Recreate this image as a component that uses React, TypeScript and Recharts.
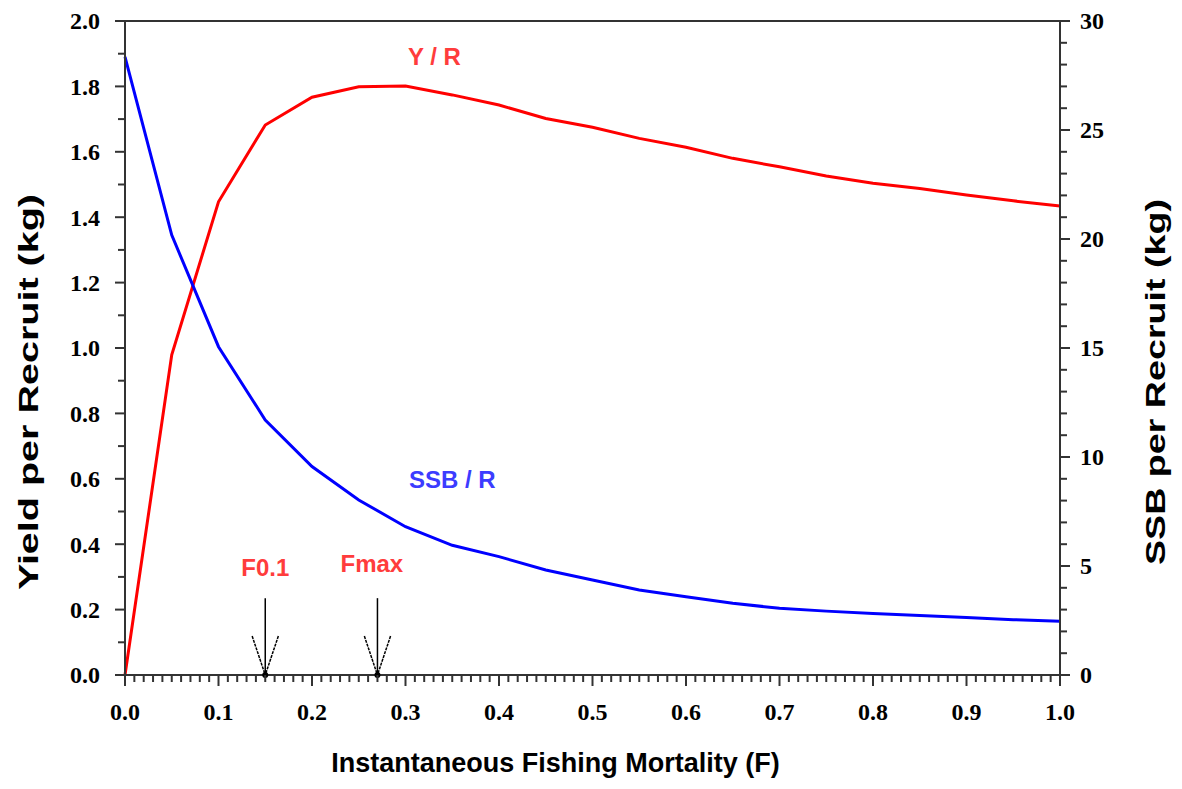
import React from 'react';
import {
  LineChart,
  Line,
  XAxis,
  YAxis,
  ReferenceLine,
  ReferenceDot,
  Label,
} from 'recharts';

// fishing mortality values (x)
const fValues = [0, 0.05, 0.1, 0.15, 0.2, 0.25, 0.3, 0.35, 0.4, 0.45, 0.5, 0.55, 0.6, 0.65, 0.7, 0.75, 0.8, 0.85, 0.9, 0.95, 1.0];
// yield per recruit (kg), left axis
const yieldPerRecruit = [0, 0.979, 1.447, 1.682, 1.767, 1.799, 1.801, 1.774, 1.743, 1.702, 1.675, 1.641, 1.614, 1.58, 1.554, 1.526, 1.504, 1.488, 1.468, 1.45, 1.434];
// spawning stock biomass per recruit (kg), right axis
const ssbPerRecruit = [28.35, 20.18, 15.06, 11.7, 9.56, 8.03, 6.8, 5.95, 5.43, 4.82, 4.36, 3.9, 3.59, 3.29, 3.06, 2.93, 2.82, 2.73, 2.64, 2.54, 2.46];

// reference points marked with arrows
const refPoints = [
  { name: 'F0.1', f: 0.15 },
  { name: 'Fmax', f: 0.27 },
];

// text annotations: label, x, y (left axis units)
const notes = [
  { text: 'Y / R', f: 0.331, y: 1.89, color: '#ff3c3c' },
  { text: 'SSB / R', f: 0.35, y: 0.599, color: '#3c3cff' },
  { text: 'F0.1', f: 0.15, y: 0.33, color: '#ff3c3c' },
  { text: 'Fmax', f: 0.264, y: 0.3425, color: '#ff3c3c' },
];

const xTicks = Array.from({ length: 101 }, (_, i) => i / 100);
const leftTicks = Array.from({ length: 21 }, (_, i) => i / 10);
const rightTicks = Array.from({ length: 31 }, (_, i) => i);

const data = fValues.map((f, i) => ({ f, yr: yieldPerRecruit[i], ssb: ssbPerRecruit[i] }));

const AXIS = '#333';
const tickFont = { fontFamily: 'Liberation Serif', fontWeight: 700, fontSize: 24, fill: '#000' };
const titleFont = { fontFamily: 'Liberation Sans', fontWeight: 700, fontSize: 27, fill: '#000' };

const XTick = (props: any) => {
  const { x, y, payload } = props;
  const v = payload.value;
  const major = Math.abs(v * 10 - Math.round(v * 10)) < 1e-6;
  return (
    <g>
      <line x1={x} x2={x} y1={y} y2={y + (major ? 11 : 7)} stroke={AXIS} strokeWidth={2} />
      {major && (
        <text x={x} y={y + 37} dy="0.35em" textAnchor="middle" {...tickFont}>
          {v.toFixed(1)}
        </text>
      )}
    </g>
  );
};

const LeftTick = (props: any) => {
  const { x, y, payload } = props;
  const v = payload.value;
  const major = Math.round(v * 10) % 2 === 0;
  return (
    <g>
      <line x1={x} x2={x - (major ? 10 : 7)} y1={y} y2={y} stroke={AXIS} strokeWidth={2} />
      {major && (
        <text x={x - 25} y={y} dy="0.35em" textAnchor="end" {...tickFont}>
          {v.toFixed(1)}
        </text>
      )}
    </g>
  );
};

const RightTick = (props: any) => {
  const { x, y, payload } = props;
  const v = payload.value;
  const major = v % 5 === 0;
  return (
    <g>
      <line x1={x} x2={x + (major ? 10 : 7)} y1={y} y2={y} stroke={AXIS} strokeWidth={2} />
      {major && (
        <text x={x + 20} y={y} dy="0.35em" textAnchor="start" {...tickFont}>
          {v}
        </text>
      )}
    </g>
  );
};

// rotated axis title, stretched along its length like the original
const VTitle = ({ viewBox, text, side, length, shiftY }: any) => {
  const { x, y, width, height } = viewBox;
  const cx = side === 'left' ? x + 20 : x + width - 19;
  const cy = y + height / 2 + shiftY;
  return (
    <text
      x={cx}
      y={cy}
      dy="0.36em"
      textAnchor="middle"
      transform={`rotate(-90, ${cx}, ${cy})`}
      textLength={length}
      lengthAdjust="spacingAndGlyphs"
      {...titleFont}
      fontSize={28}
    >
      {text}
    </text>
  );
};

// arrow geometry (in axis units)
const ARROW_TOP = 0.235;
const HEAD_DX = 0.014;
const HEAD_DY = 0.119;

export default function App() {
  return (
    <LineChart width={1166} height={773} data={data} margin={{ top: 13, right: 0, bottom: 0, left: 0 }}>
      <XAxis
        dataKey="f"
        type="number"
        domain={[0, 1]}
        ticks={xTicks}
        interval={0}
        tickSize={0}
        tickMargin={0}
        tick={<XTick />}
        axisLine={{ stroke: AXIS, strokeWidth: 2 }}
        height={106}
      >
        <Label value="Instantaneous Fishing Mortality (F)" position="insideBottom" offset={9} dx={-37} style={titleFont} />
      </XAxis>
      <YAxis
        yAxisId="left"
        domain={[0, 2]}
        ticks={leftTicks}
        interval={0}
        tickSize={0}
        tickMargin={0}
        tick={<LeftTick />}
        axisLine={{ stroke: AXIS, strokeWidth: 2 }}
        width={117}
      >
        <Label
          content={(p: any) => (
            <VTitle viewBox={p.viewBox} text="Yield per Recruit (kg)" side="left" length={396} shiftY={44} />
          )}
        />
      </YAxis>
      <YAxis
        yAxisId="right"
        orientation="right"
        domain={[0, 30]}
        ticks={rightTicks}
        interval={0}
        tickSize={0}
        tickMargin={0}
        tick={<RightTick />}
        axisLine={{ stroke: AXIS, strokeWidth: 2 }}
        width={114}
      >
        <Label
          content={(p: any) => (
            <VTitle viewBox={p.viewBox} text="SSB per Recruit (kg)" side="right" length={366} shiftY={34} />
          )}
        />
      </YAxis>

      <ReferenceLine yAxisId="left" y={2} stroke={AXIS} strokeWidth={2} />

      <Line yAxisId="left" type="linear" dataKey="yr" stroke="#ff0000" strokeWidth={3} dot={false} isAnimationActive={false} />
      <Line yAxisId="right" type="linear" dataKey="ssb" stroke="#0000ff" strokeWidth={3} dot={false} isAnimationActive={false} />

      {refPoints.map((p) => (
        <ReferenceLine
          key={p.name + 'shaft'}
          yAxisId="left"
          segment={[{ x: p.f, y: 0 }, { x: p.f, y: ARROW_TOP }]}
          stroke="#000"
          strokeWidth={1.5}
        />
      ))}
      {refPoints.map((p) => (
        <ReferenceLine
          key={p.name + 'l'}
          yAxisId="left"
          segment={[{ x: p.f - HEAD_DX, y: HEAD_DY }, { x: p.f, y: 0 }]}
          stroke="#000"
          strokeWidth={1.5}
          strokeDasharray="3 1"
        />
      ))}
      {refPoints.map((p) => (
        <ReferenceLine
          key={p.name + 'r'}
          yAxisId="left"
          segment={[{ x: p.f + HEAD_DX, y: HEAD_DY }, { x: p.f, y: 0 }]}
          stroke="#000"
          strokeWidth={1.5}
          strokeDasharray="3 1"
        />
      ))}
      {refPoints.map((p) => (
        <ReferenceDot key={p.name + 'dot'} yAxisId="left" x={p.f} y={0} r={3} fill="#000" stroke="none" />
      ))}

      {notes.map((n) => (
        <ReferenceDot
          key={n.text}
          yAxisId="left"
          x={n.f}
          y={n.y}
          r={0}
          fill="none"
          stroke="none"
          label={{
            value: n.text,
            position: 'center',
            fill: n.color,
            fontSize: 24,
            fontWeight: 700,
            fontFamily: 'Liberation Sans',
          }}
        />
      ))}
    </LineChart>
  );
}
